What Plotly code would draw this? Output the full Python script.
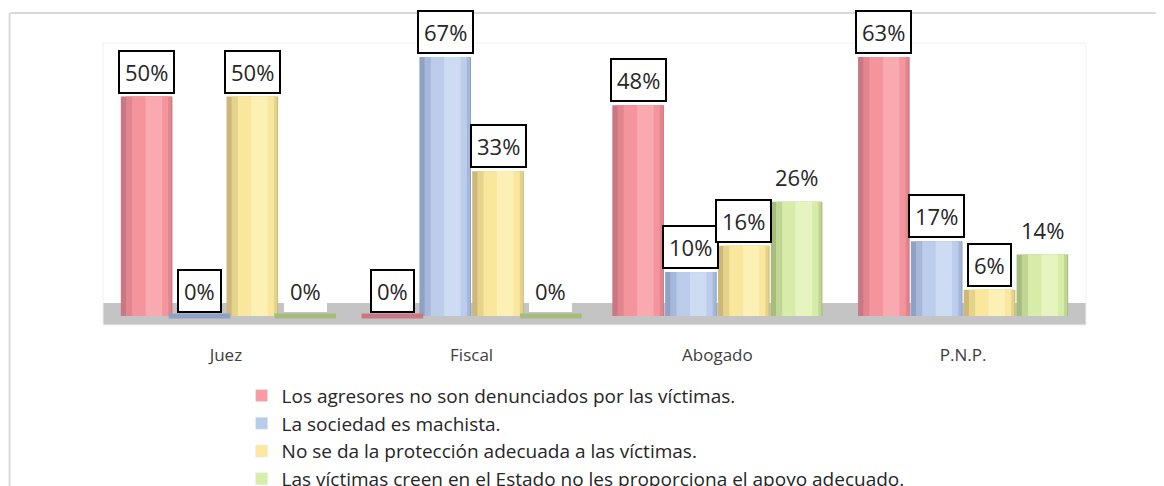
import plotly.graph_objects as go

categorias = ["Juez", "Fiscal", "Abogado", "P.N.P."]

series = [
    "Los agresores no son denunciados por las víctimas.",
    "La sociedad es machista.",
    "No se da la protección adecuada a las víctimas.",
    "Las víctimas creen en el Estado no les proporciona el apoyo adecuado.",
]

agresores = [0.50, 0.00, 0.48, 0.63]
machista = [0.00, 0.67, 0.10, 0.17]
proteccion = [0.50, 0.33, 0.16, 0.06]
apoyo = [0.00, 0.00, 0.26, 0.14]

valores = [agresores, machista, proteccion, apoyo]

# del borde oscuro al brillo, y el color plano de la leyenda
COLORES = [
    ("#c97782", "#e2858f", "#f4959e", "#f9a9b0", "#fb9aa3"),
    ("#8fa2c5", "#a6b8da", "#bccdec", "#cddbf3", "#b9cbe8"),
    ("#cdb977", "#e6d38b", "#f8e79d", "#fcf0b5", "#fde8a0"),
    ("#a6bc7c", "#c0d694", "#d8eca9", "#e6f5c0", "#d9edaa"),
]
CON_MARCO = [True, True, True, False]

Y_MAX = 0.59
ANCHO = 0.21
PASO = 0.215

# capas del cilindro: (desplazamiento, ancho) como fracción del ancho de barra
CAPAS = [(-0.50, 1.00), (-0.40, 0.88), (-0.28, 0.70), (-0.02, 0.32)]

fig = go.Figure()

for k, (nombre, datos) in enumerate(zip(series, valores)):
    tonos = COLORES[k]
    centro = (k - 1.5) * PASO
    xs = [i + centro for i in range(len(categorias))]

    for n, (despl, frac) in enumerate(CAPAS):
        fig.add_bar(
            x=xs,
            y=datos,
            offset=ANCHO * despl,
            width=ANCHO * frac,
            marker={"color": tonos[n], "line": {"width": 0}},
            name=nombre,
            legendgroup=nombre,
            showlegend=False,
            hoverinfo="skip" if n else None,
        )

    fig.add_bar(
        x=[None],
        y=[None],
        name=nombre,
        legendgroup=nombre,
        marker_color=tonos[4],
    )

    # tapa de las barras que valen cero
    fig.add_scatter(
        x=xs,
        y=[0 if v == 0 else None for v in datos],
        mode="markers",
        marker={
            "symbol": "line-ew-open",
            "size": 44,
            "color": tonos[0],
            "line": {"width": 5, "color": tonos[0]},
        },
        showlegend=False,
        hoverinfo="skip",
    )

    for x, v in zip(xs, datos):
        fig.add_annotation(
            x=x,
            y=min(v, Y_MAX),
            text=f"{v:.0%}",
            showarrow=False,
            yanchor="bottom",
            yshift=3,
            font={"size": 22, "color": "#262626"},
            bgcolor="#ffffff" if CON_MARCO[k] or v == 0 else "rgba(0,0,0,0)",
            bordercolor="#000000" if CON_MARCO[k] else "rgba(0,0,0,0)",
            borderwidth=2,
            borderpad=5,
        )

fig.update_layout(
    width=1156,
    height=478,
    paper_bgcolor="#ffffff",
    plot_bgcolor="rgba(0,0,0,0)",
    font={"family": "Open Sans, Noto Sans, sans-serif", "color": "#262626"},
    barmode="overlay",
    margin={"l": 95, "r": 78, "t": 49, "b": 161, "autoexpand": False},
    xaxis={
        "range": [-0.5, len(categorias) - 0.5],
        "tickvals": list(range(len(categorias))),
        "ticktext": categorias,
        "showgrid": False,
        "zeroline": False,
        "showline": False,
        "ticks": "",
        "ticklabelstandoff": 18,
        "tickfont": {"size": 17, "color": "#404040"},
    },
    yaxis={
        "range": [-0.0205, Y_MAX],
        "visible": False,
    },
    legend={
        "x": 0.141,
        "xanchor": "left",
        "y": -0.193,
        "yanchor": "top",
        "font": {"size": 19, "color": "#262626"},
        "tracegroupgap": 0,
        "itemwidth": 30,
        "bgcolor": "rgba(0,0,0,0)",
    },
    showlegend=True,
    shapes=[
        # suelo gris de la vista 3D
        {"type": "rect", "xref": "paper", "yref": "paper", "x0": 0, "x1": 1, "y0": 0, "y1": 0.082,
         "fillcolor": "#c4c4c4", "line": {"width": 0}, "layer": "below"},
        # marco tenue del área de trazado
        {"type": "rect", "xref": "paper", "yref": "paper", "x0": 0, "x1": 1, "y0": 0, "y1": 1.052,
         "fillcolor": "rgba(0,0,0,0)", "line": {"width": 1, "color": "#f0f0f0"}, "layer": "below"},
        # borde exterior
        {"type": "line", "xref": "paper", "yref": "paper", "x0": -0.095, "x1": 1.1, "y0": 1.164, "y1": 1.164,
         "line": {"width": 2, "color": "#d9d9d9"}},
        {"type": "line", "xref": "paper", "yref": "paper", "x0": -0.095, "x1": -0.095, "y0": 1.164, "y1": -0.7,
         "line": {"width": 2, "color": "#d9d9d9"}},
    ],
)

fig.write_html("out.html")
